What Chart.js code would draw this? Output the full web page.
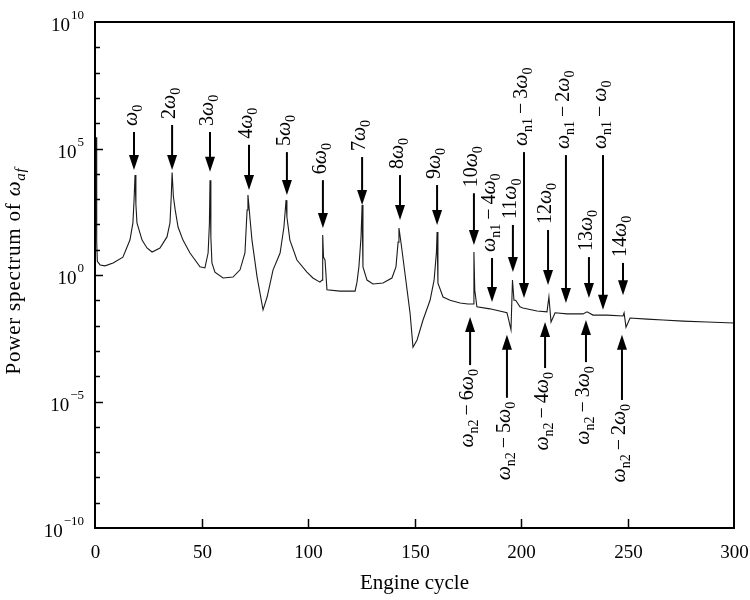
<!DOCTYPE html>
<html>
<head>
<meta charset="utf-8">
<script src="https://cdn.jsdelivr.net/npm/chart.js@4.4.1/dist/chart.umd.min.js"></script>
<style>
  html, body { margin: 0; padding: 0; background: #ffffff; }
  #wrap { width: 750px; height: 600px; }
</style>
</head>
<body>
<div id="wrap"><canvas id="c" width="750" height="600"></canvas></div>
<script>
// Power spectrum of the angular fluctuation against engine cycle
const cycle = [
  0.5, 0.8, 1.1, 2.4, 4.7, 8.5, 13.1, 16.4, 17.8, 18.3, 18.8, 19.2, 19.7, 22.1, 24.4, 26.8, 30.5, 33.8, 35.2,
  35.8, 36.2, 36.8, 37.6, 39.0, 41.3, 44.6, 49.3, 51.6, 53.1, 53.7, 54.0, 54.4, 54.9, 56.3, 60.1, 64.8, 68.1, 70.4, 71.4,
  71.8, 72.3, 72.8, 73.7, 76.1, 78.9, 80.8, 83.6, 86.9, 88.7, 89.7, 90.1, 91.5, 94.8, 99.5, 102.3, 105.6, 106.6, 106.8, 107.0,
  107.3, 108.0, 108.9, 115.0, 122.1, 123.0, 123.9, 124.9, 125.4, 125.8, 127.7, 130.5, 135.2, 139.4, 141.3, 142.3, 142.7, 143.7, 145.5, 147.9,
  149.3, 151.2, 154.0, 157.3, 159.2, 160.3, 160.6, 161.0, 163.4, 166.7, 171.4, 175.1, 177.5, 177.9, 178.3, 179.3, 185.4, 193.4, 193.9, 195.3,
  196.0, 196.7, 197.5, 199.5, 200.9, 207.5, 212.2, 213.1, 214.1, 216.0, 221.6, 229.1, 231.0, 233.8, 240.4, 247.9, 248.4, 249.3, 251.2, 259.2,
  266.7, 276.1, 287.3, 300
];
const power = [
  2.8e5, 20, 3.5, 2.5, 2.3, 3.0, 5.1, 24, 115, 790, 8.9e3, 630, 115, 24, 11.7, 8.1, 11.7, 32, 115,
  1.26e3, 1.12e4, 1.26e3, 400, 79, 24, 7.4, 2.1, 1.9, 7.4, 100, 5.6e3, 32, 3.0, 1.3, 0.76, 0.83, 1.6, 7.4, 370,
  1.45e3, 500, 160, 24, 0.83, 0.042, 0.135, 1.6, 7.4, 79, 910, 195, 24, 3.9, 1.3, 0.76, 0.52, 0.63, 4.0, 38,
  5.0, 3.9, 0.26, 0.23, 0.23, 0.52, 2.1, 32, 590, 2.1, 0.63, 0.44, 0.48, 0.76, 2.1, 20, 72, 18, 1.2, 0.032,
  1.4e-3, 2.7e-3, 0.0166, 0.10, 0.63, 7.9, 50, 0.48, 0.135, 0.10, 0.078, 0.071, 0.071, 8.1, 0.25, 0.055, 0.046, 0.032, 0.022, 6.8e-3,
  0.63, 0.10, 0.10, 0.055, 0.050, 0.038, 0.035, 0.135, 0.0138, 0.032, 0.029, 0.029, 0.035, 0.026, 0.026, 0.024, 0.032, 8.7e-3, 0.020, 0.018,
  0.0166, 0.015, 0.0138, 0.0126
];

// Axis ticks
const xTicks = [0, 50, 100, 150, 200, 250, 300];
const yLabelExponents = [10, 5, 0, -5, -10];
const yDecadeExponents = [10, 9, 8, 7, 6, 5, 4, 3, 2, 1, 0, -1, -2, -3, -4, -5, -6, -7, -8, -9, -10];

// Harmonic markers: label, cycle position, arrow tail value, arrow tip value
const markerLabels = [
  'ω_0', '2ω_0', '3ω_0', '4ω_0', '5ω_0', '6ω_0', '7ω_0', '8ω_0', '9ω_0', '10ω_0',
  'ω_n1−4ω_0', '11ω_0', 'ω_n1−3ω_0', '12ω_0', 'ω_n1−2ω_0', '13ω_0', 'ω_n1−ω_0', '14ω_0',
  'ω_n2−6ω_0', 'ω_n2−5ω_0', 'ω_n2−4ω_0', 'ω_n2−3ω_0', 'ω_n2−2ω_0'
];
const markerCycle = [
  18.3, 36.2, 54.0, 72.3, 90.1, 107.0, 125.4, 143.2, 160.6, 177.9,
  186.4, 196.2, 201.4, 212.7, 221.1, 231.9, 238.5, 247.9,
  176.1, 193.4, 211.3, 230.5, 247.4
];
const markerTail = [
  4.5e5, 8.5e5, 4.5e5, 1.4e5, 7.2e4, 5.6e3, 4.6e4, 8.9e3, 3.6e3, 1.7e3,
  4.7, 95, 7.2e4, 60, 5.5e4, 5.1, 5.5e4, 3.0,
  2.75e-4, 1.4e-5, 2.1e-4, 3.6e-4, 1.15e-5
];
const markerTip = [
  1.4e4, 1.4e4, 1.2e4, 2.3e3, 1.45e3, 72, 590, 150, 95, 15.5,
  0.085, 1.3, 0.123, 0.40, 0.078, 0.123, 0.042, 0.16,
  0.022, 4.3e-3, 0.0138, 0.0166, 4.3e-3
];

const xTitle = 'Engine cycle';
const yTitle = 'Power spectrum of ω_af';

const SERIF = '"Liberation Serif", "Times New Roman", serif';

// Split a label into roman, italic (ω), minus and subscript runs
function parseRich(str) {
  const out = [];
  const re = /ω|−|_[A-Za-z0-9]+|[^ω_−]+/g;
  let m;
  while ((m = re.exec(str)) !== null) {
    const t = m[0];
    if (t === 'ω') out.push({ text: t, kind: 'it' });
    else if (t === '−') out.push({ text: '\u2009−\u2009', kind: 'rm' });
    else if (t[0] === '_') {
      const s = t.slice(1);
      out.push({ text: s, kind: /^[A-Za-z]+$/.test(s) ? 'subit' : 'sub' });
    } else out.push({ text: t, kind: 'rm' });
  }
  return out;
}
function runFont(kind, size) {
  const sub = Math.round(size * 0.72);
  if (kind === 'it') return 'italic ' + size + 'px ' + SERIF;
  if (kind === 'sub') return sub + 'px ' + SERIF;
  if (kind === 'subit') return 'italic ' + sub + 'px ' + SERIF;
  return size + 'px ' + SERIF;
}
function richWidth(ctx, runs, size) {
  let w = 0;
  for (const r of runs) { ctx.font = runFont(r.kind, size); w += ctx.measureText(r.text).width; }
  return w;
}
// Draws runs starting at (0,0) along +x on the current transform, alphabetic baseline
function drawRuns(ctx, runs, size) {
  let x = 0;
  ctx.textBaseline = 'alphabetic';
  ctx.textAlign = 'left';
  for (const r of runs) {
    ctx.font = runFont(r.kind, size);
    const dy = (r.kind === 'sub' || r.kind === 'subit') ? size * 0.24 : 0;
    ctx.fillText(r.text, x, dy);
    x += ctx.measureText(r.text).width;
  }
  return x;
}

const decorations = {
  id: 'decorations',
  afterDraw(chart) {
    const { ctx, chartArea: a, scales } = chart;
    const xs = scales.x, ys = scales.y;
    ctx.save();
    ctx.fillStyle = '#000';
    ctx.strokeStyle = '#000';

    // frame
    ctx.lineWidth = 2;
    ctx.strokeRect(a.left, a.top, a.right - a.left, a.bottom - a.top);

    // x ticks (inward) and labels
    ctx.lineWidth = 1.5;
    ctx.font = '19px ' + SERIF;
    ctx.textAlign = 'center';
    ctx.textBaseline = 'alphabetic';
    for (const v of xTicks) {
      const px = Math.round(xs.getPixelForValue(v)) + 0.5;
      if (v > xs.min && v < xs.max) {
        ctx.beginPath(); ctx.moveTo(px, a.bottom); ctx.lineTo(px, a.bottom - 9); ctx.stroke();
      }
      ctx.fillText(String(v), px, a.bottom + 30);
    }

    // y ticks (inward)
    for (const e of yDecadeExponents) {
      if (e === 10 || e === -10) continue;
      const py = Math.round(ys.getPixelForValue(Math.pow(10, e))) + 0.5;
      const major = yLabelExponents.includes(e);
      ctx.beginPath(); ctx.moveTo(a.left, py); ctx.lineTo(a.left + (major ? 8 : 5), py); ctx.stroke();
    }
    // y labels 10^n
    for (const e of yLabelExponents) {
      const py = ys.getPixelForValue(Math.pow(10, e));
      const sup = e < 0 ? '−' + Math.abs(e) : String(e);
      ctx.font = '13px ' + SERIF;
      const ws = ctx.measureText(sup).width;
      ctx.font = '19px ' + SERIF;
      const wb = ctx.measureText('10').width;
      const right = a.left - 11;
      ctx.textAlign = 'left';
      ctx.textBaseline = 'alphabetic';
      ctx.fillText('10', right - ws - 1 - wb, py + 9);
      ctx.font = '13px ' + SERIF;
      ctx.fillText(sup, right - ws, py - 3);
    }

    // axis titles
    ctx.font = '21px ' + SERIF;
    ctx.textAlign = 'center';
    ctx.textBaseline = 'alphabetic';
    ctx.fillText(xTitle, (a.left + a.right) / 2, a.bottom + 61);

    ctx.letterSpacing = '0.8px';
    const yRuns = parseRich(yTitle);
    const yw = richWidth(ctx, yRuns, 21);
    ctx.save();
    ctx.translate(20, (a.top + a.bottom) / 2 - 4 + yw / 2);
    ctx.rotate(-Math.PI / 2);
    drawRuns(ctx, yRuns, 21);
    ctx.restore();
    ctx.letterSpacing = '0px';

    // harmonic markers: arrows with rotated labels
    const LABEL = 20, GAP = 6;
    for (let i = 0; i < markerLabels.length; i++) {
      const px = xs.getPixelForValue(markerCycle[i]);
      const tail = ys.getPixelForValue(markerTail[i]);
      const tip = ys.getPixelForValue(markerTip[i]);
      const dir = tip > tail ? 1 : -1; // 1: pointing down
      const head = 15, half = 5;
      ctx.lineWidth = 2;
      ctx.beginPath();
      ctx.moveTo(px, tail);
      ctx.lineTo(px, tip - dir * head * 0.8);
      ctx.stroke();
      ctx.beginPath();
      ctx.moveTo(px, tip);
      ctx.lineTo(px - half, tip - dir * head);
      ctx.lineTo(px + half, tip - dir * head);
      ctx.closePath();
      ctx.fill();

      const runs = parseRich(markerLabels[i]);
      const w = richWidth(ctx, runs, LABEL);
      ctx.save();
      const startY = dir === 1 ? tail - GAP : tail + GAP - 2 + w;
      ctx.translate(px + 3, startY);
      ctx.rotate(-Math.PI / 2);
      drawRuns(ctx, runs, LABEL);
      ctx.restore();
    }
    ctx.restore();
  }
};

new Chart(document.getElementById('c'), {
  type: 'scatter',
  data: {
    datasets: [{
      data: cycle.map((c, i) => ({ x: c, y: power[i] })),
      showLine: true,
      borderColor: '#1a1a1a',
      borderWidth: 1.1,
      pointRadius: 0,
      pointHoverRadius: 0,
      tension: 0,
      fill: false
    }]
  },
  options: {
    responsive: false,
    animation: false,
    devicePixelRatio: 1,
    layout: { padding: { left: 95, right: 16, top: 22, bottom: 72 } },
    plugins: { legend: { display: false }, tooltip: { enabled: false } },
    scales: {
      x: { type: 'linear', min: 0, max: 300, display: false },
      y: { type: 'logarithmic', min: 1e-10, max: 1e10, display: false }
    }
  },
  plugins: [decorations]
});
</script>
</body>
</html>
